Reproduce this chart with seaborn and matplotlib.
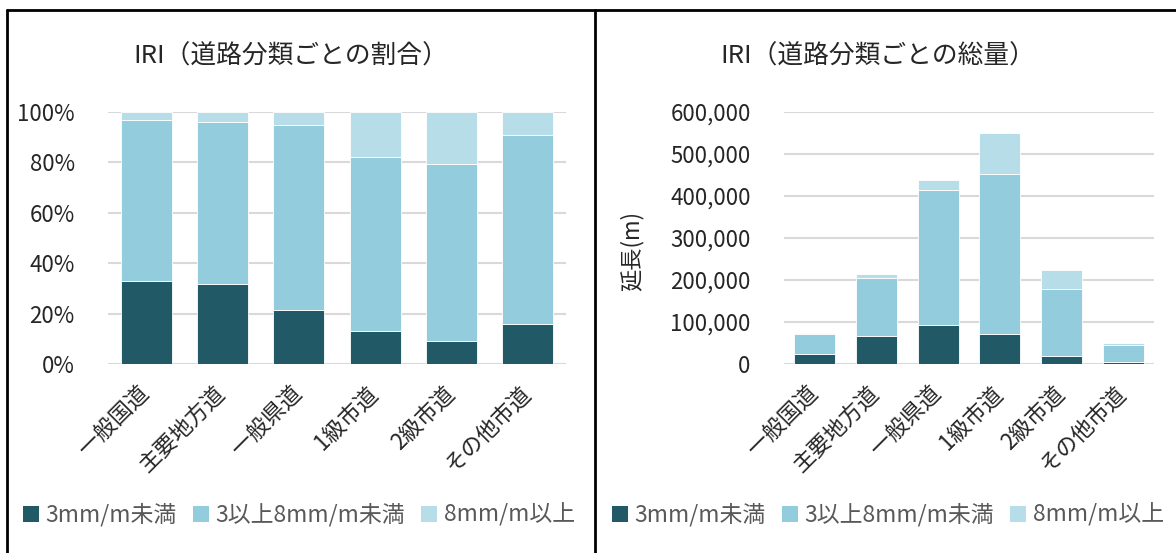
import numpy as np
import pandas as pd
import seaborn as sns
import matplotlib.pyplot as plt
from matplotlib.lines import Line2D
from matplotlib.patches import Patch
from matplotlib.ticker import FuncFormatter, MultipleLocator

# Road classes and IRI bands
roads = ["一般国道", "主要地方道", "一般県道", "1級市道", "2級市道", "その他市道"]
bands = ["3mm/m未満", "3以上8mm/m未満", "8mm/m以上"]

# Share of each band per road class (%)
share_low = [33.1, 31.6, 21.4, 12.9, 9.2, 15.7]
share_mid = [63.8, 64.4, 73.5, 69.2, 70.3, 75.0]
share_high = [3.1, 4.0, 5.1, 17.9, 20.5, 9.3]

# Total length of each band per road class (m)
len_low = [23000, 66200, 93500, 71000, 19200, 5500]
len_mid = [48000, 138800, 321400, 381700, 158700, 40100]
len_high = [2400, 10200, 22900, 97900, 46900, 3800]

colors = ["#215967", "#93CDDD", "#B7DEE8"]
grid_c = "#D9D9D9"

sns.set_theme(style="white")
plt.rcParams["font.family"] = ["Noto Sans CJK JP", "DejaVu Sans"]

fig = plt.figure(figsize=(11.76, 5.53), dpi=100)
W, H = 1176, 553


def fbox(x0, y0, x1, y1):
    return [x0 / W, 1 - y1 / H, (x1 - x0) / W, (y1 - y0) / H]


ax1 = fig.add_axes(fbox(108, 112, 566, 364))
ax2 = fig.add_axes(fbox(784, 112, 1154, 364))


def stacked(ax, series):
    bottom = np.zeros(len(roads))
    for vals, col, name in zip(series, colors, bands):
        df = pd.DataFrame({"road": roads, "value": vals})
        sns.barplot(data=df, x="road", y="value", order=roads, color=col,
                    bottom=bottom, width=0.67, edgecolor="white", linewidth=0.6,
                    saturation=1, errorbar=None, ax=ax, label=name, zorder=3)
        bottom = bottom + np.asarray(vals, dtype=float)


stacked(ax1, [share_low, share_mid, share_high])
stacked(ax2, [len_low, len_mid, len_high])

for ax in (ax1, ax2):
    for s in ax.spines.values():
        s.set_visible(False)
    ax.grid(axis="y", color=grid_c, linewidth=1.5, zorder=0)
    ax.set_axisbelow(True)
    ax.set_xlim(-0.5, len(roads) - 0.5)
    ax.set_xlabel("")
    ax.tick_params(axis="both", length=0, labelsize=16, colors="#262626")
    ax.tick_params(axis="y", pad=24)
    ax.tick_params(axis="x", pad=19)
    for lab in ax.get_xticklabels():
        lab.set_rotation(45)
        lab.set_ha("right")
        lab.set_va("center")
        lab.set_rotation_mode("anchor")
    leg = ax.get_legend()
    if leg is not None:
        leg.remove()

ax1.set_ylim(0, 100)
ax1.yaxis.set_major_locator(MultipleLocator(20))
ax1.yaxis.set_major_formatter(FuncFormatter(lambda v, p: f"{v:.0f}%"))
ax1.set_ylabel("")

ax2.set_ylim(0, 600000)
ax2.yaxis.set_major_locator(MultipleLocator(100000))
ax2.yaxis.set_major_formatter(FuncFormatter(lambda v, p: f"{v:,.0f}"))
ax2.set_ylabel("延長(m)", fontsize=16, color="#262626")
ax2.yaxis.set_label_coords(-0.38, 0.45)

fig.text(291 / W, 1 - 57 / H, "IRI（道路分類ごとの割合）", ha="center", va="center",
         fontsize=18.5, color="#262626")
fig.text(878 / W, 1 - 57 / H, "IRI（道路分類ごとの総量）", ha="center", va="center",
         fontsize=18.5, color="#262626")

handles = [Patch(facecolor=c, edgecolor="none") for c in colors]
for cx in (299, 888):
    fig.legend(handles, bands, loc="center", bbox_to_anchor=(cx / W, 1 - 515 / H),
               ncol=3, frameon=False, fontsize=16.5, handlelength=0.68, handleheight=0.68,
               handletextpad=0.3, columnspacing=0.7, labelcolor="#595959")

# Panel frame lines
lw = 2.0
fig.add_artist(Line2D([7 / W, 1], [1 - 10 / H, 1 - 10 / H], color="black", lw=lw))
fig.add_artist(Line2D([7 / W, 7 / W], [0, 1 - 10 / H], color="black", lw=lw))
fig.add_artist(Line2D([595 / W, 595 / W], [0, 1 - 10 / H], color="black", lw=lw))

fig.savefig("out.png", dpi=100)
